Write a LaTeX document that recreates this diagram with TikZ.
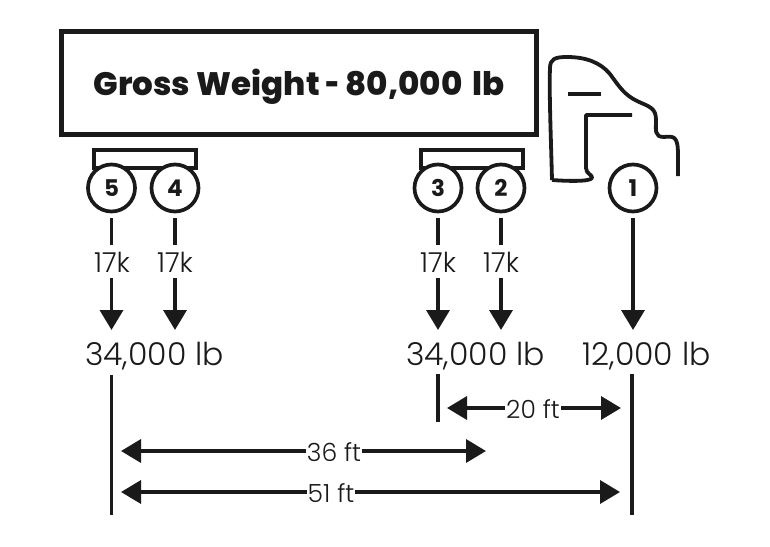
\documentclass[tikz,border=0pt]{standalone}
\usepackage{fontspec}
\setmainfont{Poppins Light}[BoldFont={Poppins ExtraBold}]
\newfontfamily\wheelfont{Poppins SemiBold}[BoldFont={Poppins Bold}]
\usetikzlibrary{arrows.meta}
\definecolor{ink}{HTML}{1A1A1A}
\tikzset{
  ink line/.style={draw=ink,line width=3.5pt},
  load/.style={ink line,-{Triangle[width=23pt,length=20pt]}},
  span/.style={ink line,{Triangle[width=23pt,length=20pt]}-{Triangle[width=23pt,length=20pt]}},
  wheel/.style={circle,draw=ink,line width=3.7pt,minimum size=47pt,inner sep=0pt,fill=white,text=ink,font=\wheelfont\bfseries\fontsize{23}{23}\selectfont},
  small/.style={inner sep=0pt,text=ink,font=\fontsize{27.5}{27.5}\selectfont},
  total/.style={inner sep=0pt,text=ink,font=\fontsize{31.5}{31.5}\selectfont},
  dim/.style={fill=white,inner sep=1pt,text=ink,font=\fontsize{25}{25}\selectfont},
}
\begin{document}
\begin{tikzpicture}[x=1pt,y=-1pt]
\useasboundingbox (0,0) rectangle (770,546);
% trailer
\node[draw=ink,line width=4.2pt,minimum width=475pt,minimum height=103pt,inner sep=0pt,text=ink,font=\bfseries\fontsize{32.5}{32.5}\selectfont] (trailer) at (299,83) {\raisebox{-12pt}[0pt][0pt]{Gross Weight \scalebox{0.6}[1]{–} 80,000\hspace{0.3em}lb}};
% axle brackets
\draw[ink line] (94,170) -- (94,150) -- (196,150) -- (196,170) (94,168) -- (196,168);
\draw[ink line] (421,170) -- (421,150) -- (523,150) -- (523,170) (421,168) -- (523,168);
% cab
\draw[draw=ink,line width=3.8pt,line join=round]
  (552,180) .. controls (551,140) and (549,90) .. (550,68)
  .. controls (550,59) and (555,57) .. (567,57)
  .. controls (585,57) and (600,62) .. (610,74)
  .. controls (620,88) and (625,95) .. (637,101)
  .. controls (650,107) and (656,108) .. (656,120)
  .. controls (656,130) and (654,137) .. (664,137)
  .. controls (674,136) and (678,136) .. (678,155)
  -- (678,176);
\draw[draw=ink,line width=3.8pt,line join=round]
  (552,180) .. controls (565,181) and (590,182) .. (592,178)
  .. controls (593,175) and (586,174) .. (586,168)
  -- (586,115) -- (632,115);
\draw[draw=ink,line width=3.8pt] (568,94) -- (601,94);
% wheels
\node[wheel] (w5) at (111.5,188) {5};
\node[wheel] (w4) at (175,188) {4};
\node[wheel] (w3) at (438,188) {3};
\node[wheel] (w2) at (501,188) {2};
\node[wheel] (w1) at (633,188) {1};
% per axle loads
\node[small] (k5) at (112,262) {17k};
\node[small] (k4) at (175,262) {17k};
\node[small] (k3) at (438,262) {17k};
\node[small] (k2) at (501,262) {17k};
% totals
\node[total] (t1) at (154.5,356) {34,000 lb};
\node[total] (t2) at (475.5,356) {34,000 lb};
\node[total] (t3) at (646.5,356) {12,000 lb};
% load arrows
\foreach \n/\x in {5/111.5,4/175,3/438,2/501}{
  \coordinate (lt\n) at (\x,245);
  \coordinate (lb\n) at (\x,278);
  \coordinate (tip\n) at (\x,330);
  \draw[ink line] (w\n.south |- 0,218) -- (lt\n);
  \draw[load] (lb\n) -- (tip\n);
}
\coordinate (tip1) at (633,330);
\draw[load] (w1.south |- 0,218) -- (tip1);
% dimension ticks
\coordinate (d1a) at (111.5,375); \coordinate (d1b) at (111.5,515);
\coordinate (d2a) at (438,374);   \coordinate (d2b) at (438,422);
\coordinate (d3a) at (632,374);   \coordinate (d3b) at (632,515);
\draw[ink line] (d1a) -- (d1b);
\draw[ink line] (d2a) -- (d2b);
\draw[ink line] (d3a) -- (d3b);
% spans
\coordinate (a20) at (447,408); \coordinate (b20) at (621,408);
\coordinate (a36) at (121,451); \coordinate (b36) at (486,451);
\coordinate (a51) at (121,492); \coordinate (b51) at (620,492);
\draw[span] (a20) -- (b20);
\draw[span] (a36) -- (b36);
\draw[span] (a51) -- (b51);
\node[dim] (n20) at (533,409) {20 ft};
\node[dim] (n36) at (334,452) {36 ft};
\node[dim] (n51) at (331,493) {51 ft};
\end{tikzpicture}
\end{document}
